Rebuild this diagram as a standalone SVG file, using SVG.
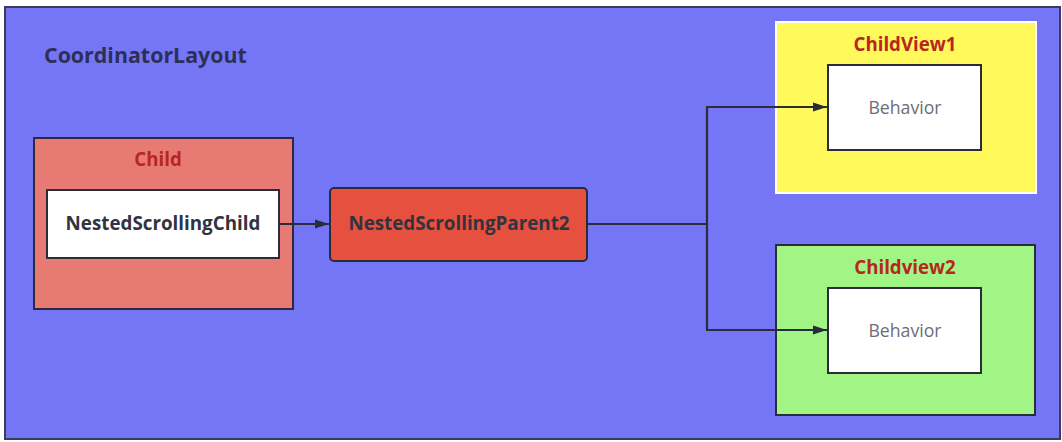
<svg xmlns="http://www.w3.org/2000/svg" width="1062" height="442" viewBox="0 0 1062 442">
  <defs>
    <marker id="arr" viewBox="0 0 14 10" refX="14" refY="5" markerWidth="14" markerHeight="10" markerUnits="userSpaceOnUse" orient="auto">
      <path d="M0,0.5 L14,5 L0,9.5 Z" fill="#2b2b3a"/>
    </marker>
    <style>
      .t { font-family: "Open Sans", "Noto Sans", "Liberation Sans", sans-serif; }
      .b { font-weight: 700; }
      .title { font-size: 18.7px; font-weight: 700; fill: #b8261c; }
      .lbl { font-size: 18.8px; font-weight: 700; fill: #333340; }
      .beh { font-size: 17.7px; fill: #6d6d78; }
      .box { stroke: #2b2b3a; stroke-width: 2; }
      .conn { fill: none; stroke: #2b2b3a; stroke-width: 2.2; }
    </style>
  </defs>
  <rect x="0" y="0" width="1062" height="442" fill="#ffffff"/>
  <g id="coordinator">
    <rect x="5" y="7" width="1055" height="432" fill="#7476f5" stroke="#3a3c5a" stroke-width="2"/>
    <text class="t b" x="44" y="63" font-size="21.4" fill="#2d2f55">CoordinatorLayout</text>
  </g>
  <g id="child">
    <rect class="box" x="34" y="138" width="259" height="171" fill="#e87a74"/>
    <text class="t title" x="158" y="166" text-anchor="middle">Child</text>
  </g>
  <g id="nestedScrollingChild">
    <rect class="box" x="47" y="190" width="232" height="68" fill="#ffffff"/>
    <text class="t lbl" x="163" y="230" text-anchor="middle">NestedScrollingChild</text>
  </g>
  <g id="nestedScrollingParent2">
    <rect class="box" x="330" y="188" width="257" height="73" rx="4" fill="#e5503f"/>
    <text class="t lbl" x="459" y="230" text-anchor="middle">NestedScrollingParent2</text>
  </g>
  <g id="childView1">
    <rect x="776" y="22" width="260" height="171" fill="#fff95c" stroke="#ffffff" stroke-width="2"/>
    <text class="t title" x="905" y="51" text-anchor="middle">ChildView1</text>
  </g>
  <g id="behavior1">
    <rect class="box" x="828" y="65" width="153" height="85" fill="#ffffff"/>
    <text class="t beh" x="905" y="114" text-anchor="middle">Behavior</text>
  </g>
  <g id="childview2">
    <rect class="box" x="776" y="245" width="259" height="170" fill="#a0f585"/>
    <text class="t title" x="905" y="274" text-anchor="middle">Childview2</text>
  </g>
  <g id="behavior2">
    <rect class="box" x="828" y="288" width="153" height="85" fill="#ffffff"/>
    <text class="t beh" x="905" y="337" text-anchor="middle">Behavior</text>
  </g>
  <g id="connectors">
    <path class="conn" d="M279,224 H329" marker-end="url(#arr)"/>
    <path class="conn" d="M587,224 H707 V107 H827" marker-end="url(#arr)"/>
    <path class="conn" d="M707,224 V330 H827" marker-end="url(#arr)"/>
  </g>
</svg>
